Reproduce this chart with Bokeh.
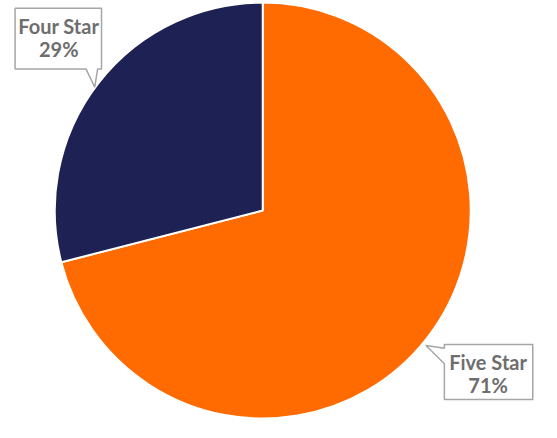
import math
from bokeh.plotting import figure
from bokeh.models import ColumnDataSource
from bokeh.core.properties import value
from bokeh.embed import file_html
from bokeh.resources import INLINE

# Data
categories = ["Five Star", "Four Star"]
shares = [71, 29]
colors = ["#FF6B00", "#1E2153"]
labels = ["Five Star\n71%", "Four Star\n29%"]

W, H = 541, 422
RW, RH = 557, 438  # reference frame
SX, SY = W / RW, H / RH

# cumulative angles, clockwise from 12 o'clock
total = sum(shares)
starts, ends = [], []
acc = 0.0
for s in shares:
    a0 = math.pi / 2 - 2 * math.pi * acc / total
    acc += s
    a1 = math.pi / 2 - 2 * math.pi * acc / total
    starts.append(a0)
    ends.append(a1)

src = ColumnDataSource(dict(cat=categories, val=shares, color=colors,
                            start=starts, end=ends))

p = figure(width=W, height=H, x_range=(0, W), y_range=(0, H),
           output_backend="svg", toolbar_location=None,
           min_border=0, outline_line_color=None)
p.axis.visible = False
p.grid.visible = False
p.background_fill_color = "white"
p.border_fill_color = "white"

def px(x):
    return x * SX

def py(y):
    return H - y * SY

cx, cy, r = px(270), py(218), 215 * (SX + SY) / 2

p.wedge(x=cx, y=cy, radius=r, start_angle="start", end_angle="end",
        direction="clock", fill_color="color", line_color="white",
        line_width=2, source=src)

# callouts (reference-pixel layout)
def callout(pts, text_lines, tx, ty):
    xs = [px(a) for a, b in pts]
    ys = [py(b) for a, b in pts]
    p.patch(xs, ys, fill_color="white", line_color="#A6A6A6", line_width=1.5)
    for i, t in enumerate(text_lines):
        p.text(x=[px(tx)], y=[py(ty + i * 24)], text=[t],
               text_font=value("Lato"), text_font_style="bold",
               text_font_size="20px", text_color="#6E6E6E",
               text_align="center", text_baseline="middle")

# Four Star (index 1) box top-left with pointer bottom-right
callout([(15, 8), (104, 8), (104, 71), (100, 71), (97, 90), (88, 71), (15, 71)],
        labels[1].split("\n"), 60, 26)

# Five Star (index 0) box bottom-right with pointer to left
callout([(457, 357), (548, 357), (548, 414), (457, 414), (457, 377),
         (438, 358), (457, 361)],
        labels[0].split("\n"), 502, 375)

open("out.html", "w").write(file_html(p, INLINE))
